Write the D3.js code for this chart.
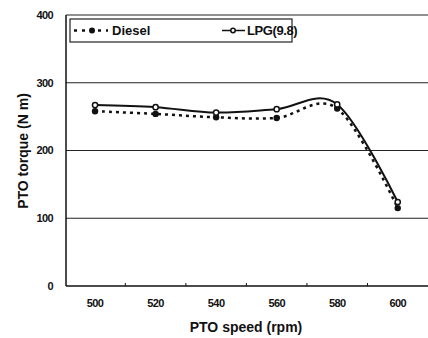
<!DOCTYPE html>
<html>
<head>
<meta charset="utf-8">
<script src="https://cdn.jsdelivr.net/npm/d3@7"></script>
<style>
  body { margin: 0; background: #fff; }
  text { font-family: "Liberation Sans", Arial, sans-serif; font-weight: bold; fill: #111; }
</style>
</head>
<body>
<div id="chart"></div>
<script>
// chart data
var speeds = [500, 520, 540, 560, 580, 600]
var diesel = [258, 254, 249, 248, 262, 115]
var lpg = [267, 264, 256, 261, 268, 124]
var yTicks = [0, 100, 200, 300, 400]
var xTicks = [500, 520, 540, 560, 580, 600]
var xMinorTicks = [510, 530, 550, 570, 590]

var width = 428, height = 338
var margin = { top: 15, right: 0, bottom: 52, left: 66 }

var svg = d3.select("#chart").append("svg")
  .attr("width", width)
  .attr("height", height)

var x = d3.scaleLinear().domain([490.4, 610]).range([margin.left, width - margin.right])
var y = d3.scaleLinear().domain([0, 400]).range([height - margin.bottom, margin.top])

// grid lines (also top border at 400)
svg.append("g")
  .selectAll("line")
  .data(yTicks.filter(function(d) { return d > 0 }))
  .enter().append("line")
  .attr("x1", margin.left).attr("x2", width)
  .attr("y1", function(d) { return y(d) }).attr("y2", function(d) { return y(d) })
  .attr("stroke", "#222").attr("stroke-width", 1.2)

// axes lines
svg.append("line")
  .attr("x1", margin.left).attr("x2", margin.left)
  .attr("y1", y(400)).attr("y2", y(0))
  .attr("stroke", "#111").attr("stroke-width", 1.5)
svg.append("line")
  .attr("x1", margin.left).attr("x2", width)
  .attr("y1", y(0)).attr("y2", y(0))
  .attr("stroke", "#111").attr("stroke-width", 1.5)

// small ticks between categories
svg.append("g")
  .selectAll("line")
  .data(xMinorTicks)
  .enter().append("line")
  .attr("x1", function(d) { return x(d) }).attr("x2", function(d) { return x(d) })
  .attr("y1", y(0)).attr("y2", y(0) - 3)
  .attr("stroke", "#111").attr("stroke-width", 1)

// y tick labels
svg.append("g")
  .selectAll("text")
  .data(yTicks)
  .enter().append("text")
  .attr("x", 53)
  .attr("y", function(d) { return y(d) })
  .attr("dy", "0.35em")
  .attr("text-anchor", "end")
  .style("font-size", "11px")
  .style("letter-spacing", "-0.6px")
  .text(function(d) { return d })

// x tick labels
svg.append("g")
  .selectAll("text")
  .data(xTicks)
  .enter().append("text")
  .attr("x", function(d) { return x(d) })
  .attr("y", 303)
  .attr("dy", "0.35em")
  .attr("text-anchor", "middle")
  .style("font-size", "11px")
  .style("letter-spacing", "-0.6px")
  .text(function(d) { return d })

// axis titles
svg.append("text")
  .attr("x", 246).attr("y", 327)
  .attr("dy", "0.35em")
  .attr("text-anchor", "middle")
  .style("font-size", "14px")
  .text("PTO speed (rpm)")

svg.append("text")
  .attr("transform", "translate(23,151) rotate(-90)")
  .attr("dy", "0.35em")
  .attr("text-anchor", "middle")
  .style("font-size", "14px")
  .text("PTO torque (N m)")

// smoothed lines like the spreadsheet
var line = d3.line()
  .x(function(d) { return x(d[0]) })
  .y(function(d) { return y(d[1]) })
  .curve(d3.curveCardinal.tension(0))

var dieselPts = speeds.map(function(s, i) { return [s, diesel[i]] })
var lpgPts = speeds.map(function(s, i) { return [s, lpg[i]] })

svg.append("path")
  .datum(lpgPts)
  .attr("d", line)
  .attr("fill", "none")
  .attr("stroke", "#111")
  .attr("stroke-width", 2)

svg.append("path")
  .datum(dieselPts)
  .attr("d", line)
  .attr("fill", "none")
  .attr("stroke", "#111")
  .attr("stroke-width", 2.5)
  .attr("stroke-dasharray", "3,4")

svg.append("g")
  .selectAll("circle")
  .data(dieselPts)
  .enter().append("circle")
  .attr("cx", function(d) { return x(d[0]) })
  .attr("cy", function(d) { return y(d[1]) })
  .attr("r", 3.2)
  .attr("fill", "#111")

svg.append("g")
  .selectAll("circle")
  .data(lpgPts)
  .enter().append("circle")
  .attr("cx", function(d) { return x(d[0]) })
  .attr("cy", function(d) { return y(d[1]) })
  .attr("r", 2.6)
  .attr("fill", "#fff")
  .attr("stroke", "#111")
  .attr("stroke-width", 1.5)

// legend
var legend = svg.append("g")
legend.append("rect")
  .attr("x", 70).attr("y", 19)
  .attr("width", 222).attr("height", 23)
  .attr("fill", "#fff")
  .attr("stroke", "#222").attr("stroke-width", 1.2)

legend.append("line")
  .attr("x1", 74).attr("x2", 108).attr("y1", 30.5).attr("y2", 30.5)
  .attr("stroke", "#111").attr("stroke-width", 2.5)
  .attr("stroke-dasharray", "3,5")
legend.append("circle")
  .attr("cx", 92).attr("cy", 30.5).attr("r", 3)
  .attr("fill", "#111")
legend.append("text")
  .attr("x", 112).attr("y", 30.5).attr("dy", "0.35em")
  .style("font-size", "13px")
  .text("Diesel")

legend.append("line")
  .attr("x1", 222).attr("x2", 245).attr("y1", 30.5).attr("y2", 30.5)
  .attr("stroke", "#111").attr("stroke-width", 1.5)
legend.append("circle")
  .attr("cx", 233).attr("cy", 30.5).attr("r", 2.2)
  .attr("fill", "#fff").attr("stroke", "#111").attr("stroke-width", 1.5)
legend.append("text")
  .attr("x", 247).attr("y", 30.5).attr("dy", "0.35em")
  .style("font-size", "13px")
  .style("letter-spacing", "-0.4px")
  .text("LPG(9.8)")
</script>
</body>
</html>
